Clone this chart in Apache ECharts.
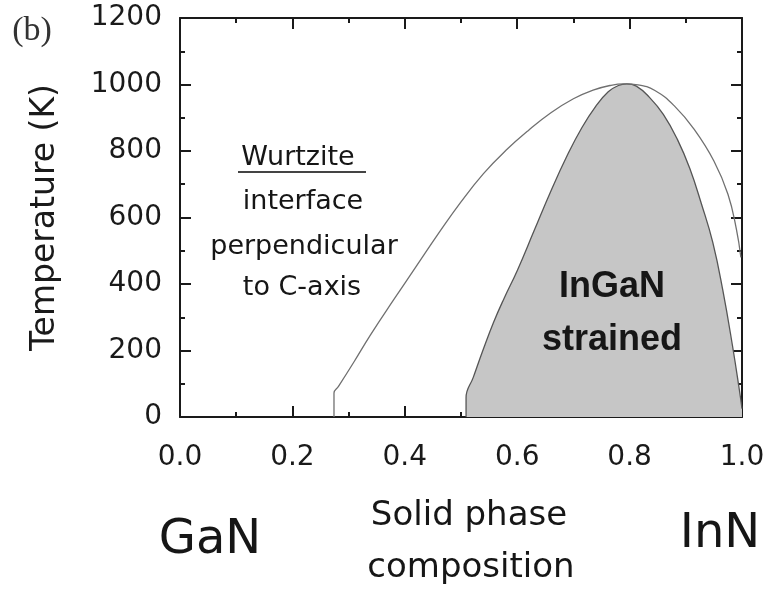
<!DOCTYPE html>
<html>
<head>
<meta charset="utf-8">
<script src="https://cdn.jsdelivr.net/npm/echarts@6/dist/echarts.min.js"></script>
<style>
  html, body { margin: 0; padding: 0; background: #ffffff; }
  #chart { width: 769px; height: 596px; }
</style>
</head>
<body>
<div id="chart"></div>
<script>
// Tick labels
const xTickLabels = ['0.0', '0.2', '0.4', '0.6', '0.8', '1.0'];
const yTickLabels = ['0', '200', '400', '600', '800', '1000', '1200'];

// Outer boundary (wurtzite, interface perpendicular to c-axis): composition, temperature (K)
const outerX = [0.274, 0.274, 0.282, 0.310, 0.339, 0.380, 0.420, 0.460, 0.500, 0.540, 0.580, 0.620, 0.660, 0.700, 0.735, 0.765, 0.790, 0.815, 0.845, 0.880, 0.915, 0.950, 0.975, 0.990, 0.998];
const outerT = [0, 72, 92, 167, 247, 352, 452, 552, 647, 732, 802, 862, 915, 957, 983, 997, 1002, 999, 982, 935, 865, 770, 670, 565, 480];

// Inner boundary (strained InGaN region): composition, temperature (K)
const innerX = [0.509, 0.509, 0.522, 0.540, 0.558, 0.577, 0.600, 0.630, 0.660, 0.690, 0.715, 0.740, 0.762, 0.780, 0.795, 0.812, 0.835, 0.860, 0.885, 0.907, 0.928, 0.948, 0.966, 0.983, 0.995, 1.000];
const innerT = [0, 58, 120, 205, 285, 358, 440, 560, 680, 790, 870, 935, 978, 997, 1002, 995, 962, 910, 835, 748, 640, 525, 380, 215, 85, 25];

const pairs = (xs, ys) => xs.map((x, i) => [x, ys[i]]);

const chart = echarts.init(document.getElementById('chart'), null, { renderer: 'canvas' });

const axisColor = '#1a1a1a';
const tickFont = { fontFamily: 'DejaVu Sans', fontSize: 28, color: '#1a1a1a' };

const baseX = {
  type: 'value', min: 0, max: 1, interval: 0.2,
  axisLine: { show: true, onZero: false, lineStyle: { color: axisColor, width: 2 } },
  axisTick: { show: true, inside: true, length: 11, lineStyle: { color: axisColor, width: 2 } },
  minorTick: { show: true, splitNumber: 2, length: 5, lineStyle: { color: axisColor, width: 2 } },
  splitLine: { show: false }, minorSplitLine: { show: false }
};
const baseY = {
  type: 'value', min: 0, max: 1200, interval: 200,
  axisLine: { show: true, onZero: false, lineStyle: { color: axisColor, width: 2 } },
  axisTick: { show: true, inside: true, length: 11, lineStyle: { color: axisColor, width: 2 } },
  minorTick: { show: true, splitNumber: 2, length: 5, lineStyle: { color: axisColor, width: 2 } },
  splitLine: { show: false }, minorSplitLine: { show: false }
};

const textStyle = (font, size, weight) => ({
  fontFamily: font, fontSize: size, fontWeight: weight || 'normal',
  fill: '#161616', textAlign: 'center', textVerticalAlign: 'middle'
});
const label = (text, x, y, font, size, weight) => ({
  type: 'text', x: x, y: y, z: 100, style: Object.assign({ text: text }, textStyle(font, size, weight))
});

chart.setOption({
  animation: false,
  backgroundColor: '#ffffff',
  grid: { left: 180, right: 27, top: 18, bottom: 179, containLabel: false },
  xAxis: [
    Object.assign({}, baseX, {
      position: 'bottom',
      axisLabel: Object.assign({ margin: 27, formatter: v => xTickLabels[Math.round(v / 0.2)] }, tickFont)
    }),
    Object.assign({}, baseX, { position: 'top', axisLabel: { show: false } })
  ],
  yAxis: [
    Object.assign({}, baseY, {
      position: 'left',
      name: 'Temperature (K)',
      nameLocation: 'middle',
      nameGap: 118,
      nameTextStyle: { fontFamily: 'DejaVu Sans', fontSize: 33, color: '#1a1a1a' },
      axisLabel: Object.assign({ margin: 18, formatter: v => yTickLabels[Math.round(v / 200)] }, tickFont)
    }),
    Object.assign({}, baseY, { position: 'right', axisLabel: { show: false } })
  ],
  series: [
    {
      name: 'InGaN strained',
      type: 'line',
      data: pairs(innerX, innerT),
      smooth: 0.45,
      showSymbol: false,
      lineStyle: { color: '#555555', width: 1.3 },
      areaStyle: { color: '#c6c6c6', opacity: 1, origin: 'start' },
      z: 2
    },
    {
      name: 'Wurtzite',
      type: 'line',
      data: pairs(outerX, outerT),
      smooth: 0.45,
      showSymbol: false,
      lineStyle: { color: '#707070', width: 1.3 },
      z: 3
    }
  ],
  graphic: [
    { type: 'text', x: 32, y: 31, z: 100, style: Object.assign({ text: '(b)' }, textStyle('Liberation Serif', 34), { fill: '#333333' }) },
    label('Wurtzite', 298, 158, 'DejaVu Sans', 27),
    { type: 'line', z: 100, shape: { x1: 238, y1: 172, x2: 366, y2: 172 }, style: { stroke: '#444444', lineWidth: 2 } },
    label('interface', 303, 202, 'DejaVu Sans', 27),
    label('perpendicular', 304, 247, 'DejaVu Sans', 27),
    label('to C-axis', 302, 288, 'DejaVu Sans', 27),
    label('InGaN', 612, 287, 'Liberation Sans', 36, 'bold'),
    label('strained', 612, 340, 'Liberation Sans', 36, 'bold'),
    label('GaN', 210, 541, 'DejaVu Sans', 48),
    label('InN', 720, 535, 'DejaVu Sans', 48),
    label('Solid phase', 469, 516, 'DejaVu Sans', 34),
    label('composition', 471, 568, 'DejaVu Sans', 34)
  ]
});
</script>
</body>
</html>
